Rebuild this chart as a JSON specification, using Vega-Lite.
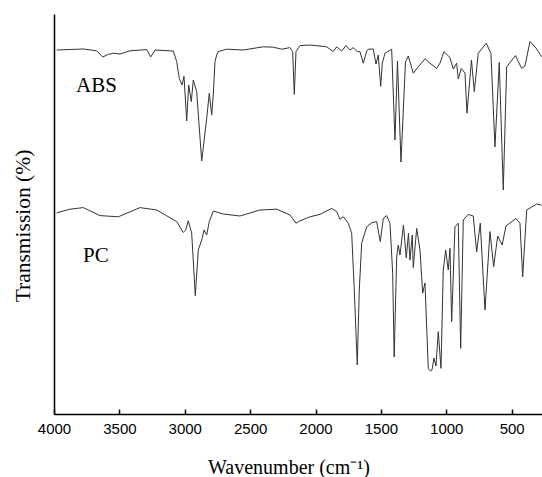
{
  "$schema": "https://vega.github.io/schema/vega-lite/v6.json",
  "width": 488,
  "height": 400,
  "autosize": {"type": "none"},
  "padding": {"left": 54, "top": 14, "right": 0, "bottom": 63},
  "background": "white",
  "config": {"view": {"stroke": null}},
  "datasets": {
    "spectra": [
      {"s": "ABS", "w": 3979.4, "T": 91.0},
      {"s": "ABS", "w": 3775.9, "T": 91.25},
      {"s": "ABS", "w": 3673.5, "T": 90.8},
      {"s": "ABS", "w": 3627.6, "T": 89.25},
      {"s": "ABS", "w": 3584.8, "T": 89.9},
      {"s": "ABS", "w": 3546.5, "T": 90.2},
      {"s": "ABS", "w": 3495.3, "T": 90.0},
      {"s": "ABS", "w": 3418.8, "T": 90.8},
      {"s": "ABS", "w": 3291.1, "T": 91.1},
      {"s": "ABS", "w": 3260.5, "T": 89.25},
      {"s": "ABS", "w": 3227.7, "T": 91.0},
      {"s": "ABS", "w": 3087.7, "T": 90.75},
      {"s": "ABS", "w": 3061.7, "T": 88.1},
      {"s": "ABS", "w": 3041.8, "T": 83.9},
      {"s": "ABS", "w": 3021.2, "T": 82.25},
      {"s": "ABS", "w": 3005.9, "T": 84.4},
      {"s": "ABS", "w": 2985.2, "T": 73.25},
      {"s": "ABS", "w": 2970.0, "T": 82.25},
      {"s": "ABS", "w": 2950.1, "T": 78.1},
      {"s": "ABS", "w": 2934.8, "T": 83.5},
      {"s": "ABS", "w": 2908.8, "T": 80.6},
      {"s": "ABS", "w": 2870.5, "T": 63.25},
      {"s": "ABS", "w": 2832.3, "T": 73.9},
      {"s": "ABS", "w": 2812.4, "T": 80.2},
      {"s": "ABS", "w": 2794.1, "T": 74.75},
      {"s": "ABS", "w": 2781.8, "T": 79.75},
      {"s": "ABS", "w": 2768.8, "T": 88.1},
      {"s": "ABS", "w": 2755.8, "T": 89.75},
      {"s": "ABS", "w": 2743.6, "T": 90.6},
      {"s": "ABS", "w": 2679.4, "T": 91.2},
      {"s": "ABS", "w": 2552.4, "T": 91.0},
      {"s": "ABS", "w": 2399.5, "T": 91.8},
      {"s": "ABS", "w": 2323.0, "T": 91.7},
      {"s": "ABS", "w": 2258.8, "T": 91.2},
      {"s": "ABS", "w": 2195.3, "T": 91.6},
      {"s": "ABS", "w": 2174.7, "T": 90.6},
      {"s": "ABS", "w": 2162.4, "T": 79.9},
      {"s": "ABS", "w": 2149.4, "T": 90.6},
      {"s": "ABS", "w": 2118.8, "T": 92.1},
      {"s": "ABS", "w": 2042.4, "T": 92.25},
      {"s": "ABS", "w": 1914.7, "T": 91.8},
      {"s": "ABS", "w": 1864.2, "T": 90.6},
      {"s": "ABS", "w": 1838.2, "T": 91.8},
      {"s": "ABS", "w": 1800.0, "T": 90.75},
      {"s": "ABS", "w": 1767.1, "T": 92.1},
      {"s": "ABS", "w": 1736.5, "T": 91.0},
      {"s": "ABS", "w": 1711.2, "T": 91.6},
      {"s": "ABS", "w": 1680.7, "T": 90.6},
      {"s": "ABS", "w": 1660.0, "T": 90.6},
      {"s": "ABS", "w": 1634.8, "T": 87.7},
      {"s": "ABS", "w": 1608.8, "T": 90.75},
      {"s": "ABS", "w": 1596.5, "T": 91.2},
      {"s": "ABS", "w": 1558.3, "T": 91.25},
      {"s": "ABS", "w": 1537.7, "T": 87.5},
      {"s": "ABS", "w": 1520.1, "T": 89.75},
      {"s": "ABS", "w": 1501.7, "T": 81.9},
      {"s": "ABS", "w": 1489.5, "T": 87.7},
      {"s": "ABS", "w": 1468.8, "T": 90.2},
      {"s": "ABS", "w": 1417.6, "T": 91.2},
      {"s": "ABS", "w": 1392.4, "T": 68.5},
      {"s": "ABS", "w": 1373.3, "T": 88.25},
      {"s": "ABS", "w": 1346.5, "T": 63.0},
      {"s": "ABS", "w": 1312.1, "T": 88.0},
      {"s": "ABS", "w": 1290.6, "T": 89.5},
      {"s": "ABS", "w": 1252.4, "T": 85.2},
      {"s": "ABS", "w": 1214.2, "T": 86.8},
      {"s": "ABS", "w": 1163.0, "T": 88.8},
      {"s": "ABS", "w": 1124.7, "T": 87.7},
      {"s": "ABS", "w": 1073.5, "T": 86.4},
      {"s": "ABS", "w": 1048.3, "T": 87.7},
      {"s": "ABS", "w": 1017.7, "T": 90.6},
      {"s": "ABS", "w": 971.8, "T": 89.1},
      {"s": "ABS", "w": 946.5, "T": 86.25},
      {"s": "ABS", "w": 920.6, "T": 87.7},
      {"s": "ABS", "w": 908.3, "T": 83.75},
      {"s": "ABS", "w": 885.4, "T": 86.4},
      {"s": "ABS", "w": 857.1, "T": 85.2},
      {"s": "ABS", "w": 841.8, "T": 75.2},
      {"s": "ABS", "w": 807.4, "T": 88.5},
      {"s": "ABS", "w": 786.0, "T": 80.6},
      {"s": "ABS", "w": 755.4, "T": 90.2},
      {"s": "ABS", "w": 694.2, "T": 92.7},
      {"s": "ABS", "w": 658.3, "T": 90.1},
      {"s": "ABS", "w": 627.7, "T": 66.8},
      {"s": "ABS", "w": 594.8, "T": 87.9},
      {"s": "ABS", "w": 564.2, "T": 56.0},
      {"s": "ABS", "w": 538.2, "T": 86.8},
      {"s": "ABS", "w": 470.9, "T": 89.6},
      {"s": "ABS", "w": 423.5, "T": 86.4},
      {"s": "ABS", "w": 398.3, "T": 87.0},
      {"s": "ABS", "w": 360.0, "T": 93.1},
      {"s": "ABS", "w": 314.1, "T": 91.5},
      {"s": "ABS", "w": 270.6, "T": 89.3},
      {"s": "PC", "w": 3979.4, "T": 50.3},
      {"s": "PC", "w": 3877.6, "T": 51.2},
      {"s": "PC", "w": 3775.9, "T": 51.6},
      {"s": "PC", "w": 3648.2, "T": 49.6},
      {"s": "PC", "w": 3508.3, "T": 49.3},
      {"s": "PC", "w": 3342.4, "T": 51.6},
      {"s": "PC", "w": 3214.7, "T": 51.0},
      {"s": "PC", "w": 3061.7, "T": 48.1},
      {"s": "PC", "w": 3011.2, "T": 45.4},
      {"s": "PC", "w": 2992.9, "T": 46.0},
      {"s": "PC", "w": 2973.0, "T": 48.3},
      {"s": "PC", "w": 2947.0, "T": 45.2},
      {"s": "PC", "w": 2919.5, "T": 29.6},
      {"s": "PC", "w": 2896.5, "T": 41.0},
      {"s": "PC", "w": 2870.5, "T": 43.5},
      {"s": "PC", "w": 2852.9, "T": 46.0},
      {"s": "PC", "w": 2832.3, "T": 44.75},
      {"s": "PC", "w": 2812.4, "T": 48.1},
      {"s": "PC", "w": 2781.8, "T": 50.75},
      {"s": "PC", "w": 2705.4, "T": 50.0},
      {"s": "PC", "w": 2577.7, "T": 49.5},
      {"s": "PC", "w": 2424.7, "T": 51.0},
      {"s": "PC", "w": 2297.0, "T": 51.2},
      {"s": "PC", "w": 2195.3, "T": 49.75},
      {"s": "PC", "w": 2149.4, "T": 47.7},
      {"s": "PC", "w": 2118.8, "T": 48.3},
      {"s": "PC", "w": 2042.4, "T": 49.3},
      {"s": "PC", "w": 1965.9, "T": 49.9},
      {"s": "PC", "w": 1876.4, "T": 51.4},
      {"s": "PC", "w": 1838.2, "T": 50.6},
      {"s": "PC", "w": 1813.0, "T": 48.7},
      {"s": "PC", "w": 1787.7, "T": 49.3},
      {"s": "PC", "w": 1749.5, "T": 47.7},
      {"s": "PC", "w": 1723.5, "T": 45.2},
      {"s": "PC", "w": 1703.6, "T": 31.0},
      {"s": "PC", "w": 1680.7, "T": 12.25},
      {"s": "PC", "w": 1665.4, "T": 31.0},
      {"s": "PC", "w": 1647.0, "T": 42.7},
      {"s": "PC", "w": 1608.8, "T": 46.8},
      {"s": "PC", "w": 1570.5, "T": 47.8},
      {"s": "PC", "w": 1532.3, "T": 48.1},
      {"s": "PC", "w": 1504.8, "T": 43.1},
      {"s": "PC", "w": 1481.8, "T": 48.9},
      {"s": "PC", "w": 1455.8, "T": 49.6},
      {"s": "PC", "w": 1430.6, "T": 47.7},
      {"s": "PC", "w": 1410.0, "T": 35.2},
      {"s": "PC", "w": 1398.5, "T": 14.25},
      {"s": "PC", "w": 1379.4, "T": 39.3},
      {"s": "PC", "w": 1367.1, "T": 42.25},
      {"s": "PC", "w": 1354.1, "T": 39.75},
      {"s": "PC", "w": 1327.4, "T": 47.25},
      {"s": "PC", "w": 1306.0, "T": 39.0},
      {"s": "PC", "w": 1289.1, "T": 45.2},
      {"s": "PC", "w": 1277.7, "T": 38.5},
      {"s": "PC", "w": 1260.1, "T": 44.75},
      {"s": "PC", "w": 1252.4, "T": 36.6},
      {"s": "PC", "w": 1226.4, "T": 46.4},
      {"s": "PC", "w": 1201.2, "T": 41.0},
      {"s": "PC", "w": 1180.6, "T": 30.2},
      {"s": "PC", "w": 1163.0, "T": 32.75},
      {"s": "PC", "w": 1137.7, "T": 11.4},
      {"s": "PC", "w": 1120.9, "T": 10.75},
      {"s": "PC", "w": 1109.4, "T": 11.0},
      {"s": "PC", "w": 1094.1, "T": 14.0},
      {"s": "PC", "w": 1078.8, "T": 12.0},
      {"s": "PC", "w": 1061.3, "T": 20.6},
      {"s": "PC", "w": 1040.6, "T": 11.4},
      {"s": "PC", "w": 1023.0, "T": 36.0},
      {"s": "PC", "w": 1004.7, "T": 41.0},
      {"s": "PC", "w": 984.8, "T": 36.0},
      {"s": "PC", "w": 971.8, "T": 41.4},
      {"s": "PC", "w": 958.8, "T": 23.1},
      {"s": "PC", "w": 933.6, "T": 46.8},
      {"s": "PC", "w": 908.3, "T": 47.7},
      {"s": "PC", "w": 890.0, "T": 16.4},
      {"s": "PC", "w": 870.1, "T": 48.5},
      {"s": "PC", "w": 831.9, "T": 49.9},
      {"s": "PC", "w": 793.6, "T": 49.5},
      {"s": "PC", "w": 767.6, "T": 40.5},
      {"s": "PC", "w": 740.1, "T": 47.7},
      {"s": "PC", "w": 704.1, "T": 26.0},
      {"s": "PC", "w": 665.9, "T": 45.6},
      {"s": "PC", "w": 637.6, "T": 36.8},
      {"s": "PC", "w": 607.0, "T": 44.5},
      {"s": "PC", "w": 572.6, "T": 42.25},
      {"s": "PC", "w": 543.6, "T": 47.0},
      {"s": "PC", "w": 467.1, "T": 48.9},
      {"s": "PC", "w": 436.5, "T": 47.7},
      {"s": "PC", "w": 415.8, "T": 34.3},
      {"s": "PC", "w": 385.2, "T": 51.0},
      {"s": "PC", "w": 308.7, "T": 52.5},
      {"s": "PC", "w": 270.6, "T": 52.2}
    ],
    "labels": [
      {"w": 3831.8, "T": 80.5, "label": "ABS"},
      {"w": 3778.0, "T": 38.0, "label": "PC"}
    ]
  },
  "layer": [
    {
      "data": {"name": "spectra"},
      "mark": {"type": "line", "stroke": "#333333", "strokeWidth": 1, "clip": true},
      "encoding": {
        "x": {
          "field": "w",
          "type": "quantitative",
          "scale": {"domain": [268, 4000], "reverse": true, "nice": false, "zero": false},
          "axis": {
            "values": [4000, 3750, 3500, 3250, 3000, 2750, 2500, 2250, 2000, 1750, 1500, 1250, 1000, 750, 500],
            "format": "d",
            "labelExpr": "datum.value % 500 === 0 ? datum.label : ''",
            "labelFlush": false,
            "labelOverlap": false,
            "tickSize": -5,
            "tickColor": "black",
            "tickWidth": 1.5,
            "domainColor": "black",
            "domainWidth": 1.5,
            "grid": false,
            "labelFont": "Liberation Sans",
            "labelFontSize": 15,
            "labelColor": "black",
            "labelPadding": 12,
            "title": "Wavenumber (cm⁻¹)",
            "titleFont": "Liberation Serif",
            "titleFontSize": 20,
            "titleFontWeight": "normal",
            "titleColor": "black",
            "titleX": 234.5,
            "titleY": 59,
            "titleBaseline": "alphabetic",
            "titleAlign": "center",
            "encode": {"ticks": {"update": {"y2": {"signal": "datum.value % 500 === 0 ? -5 : -3"}}}}
          }
        },
        "y": {
          "field": "T",
          "type": "quantitative",
          "scale": {"domain": [0, 100], "nice": false, "zero": false},
          "axis": {
            "title": "Transmission (%)",
            "labels": false,
            "ticks": false,
            "grid": false,
            "domainColor": "black",
            "domainWidth": 1.5,
            "titleFont": "Liberation Serif",
            "titleFontSize": 21.5,
            "titleFontWeight": "normal",
            "titleColor": "black",
            "titleX": -25,
            "titleY": 211.5,
            "titleAngle": -90,
            "titleBaseline": "alphabetic",
            "titleAlign": "center"
          }
        },
        "detail": {"field": "s", "type": "nominal"}
      }
    },
    {
      "data": {"name": "labels"},
      "mark": {"type": "text", "align": "left", "baseline": "alphabetic", "font": "Liberation Serif", "fontSize": 21, "color": "black"},
      "encoding": {
        "x": {"field": "w", "type": "quantitative"},
        "y": {"field": "T", "type": "quantitative"},
        "text": {"field": "label", "type": "nominal"}
      }
    }
  ]
}
